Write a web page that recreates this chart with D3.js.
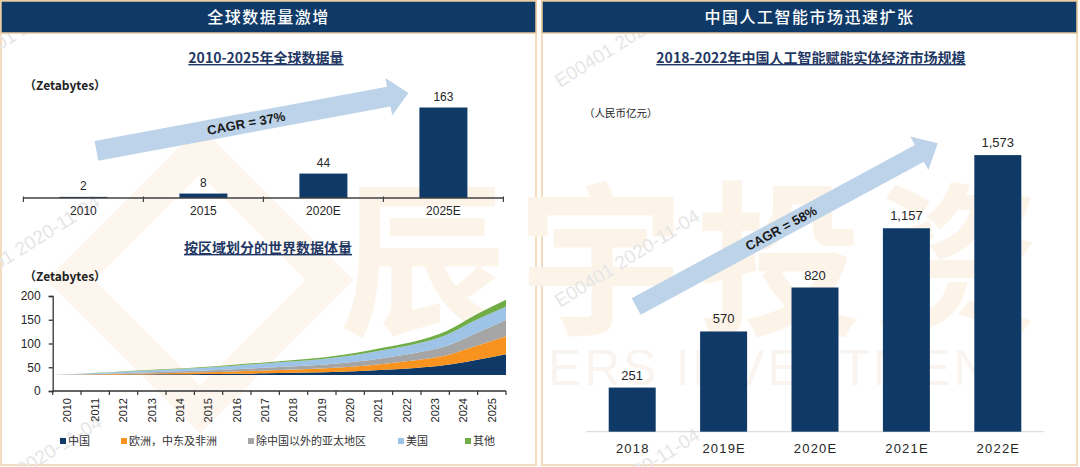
<!DOCTYPE html>
<html><head><meta charset="utf-8">
<script src="https://cdn.jsdelivr.net/npm/d3@7"></script>
<style>
body{margin:0;background:#fff;}
svg{display:block;}
</style></head>
<body><svg id="c" width="1080" height="467"></svg>
<script>
// ---------------- DATA ----------------
const topCategories = ["2010", "2015", "2020E", "2025E"];
const topValues = [2, 8, 44, 163];
const topCagr = "CAGR = 37%";

const stackYears = [2010,2011,2012,2013,2014,2015,2016,2017,2018,2019,2020,2021,2022,2023,2024,2025];
const stackNames = ["中国", "欧洲，中东及非洲", "除中国以外的亚太地区", "美国", "其他"];
const chinaVals = [0, 0.4, 0.8, 1.2, 1.7, 2.2, 3.0, 3.8, 4.8, 6.0, 8.0, 11, 15, 21, 32, 44];
const emeaVals  = [0, 0.7, 1.4, 2.2, 2.9, 3.6, 4.6, 5.6, 6.8, 8.2, 10, 13, 16, 20, 29, 38];
const apjVals   = [0, 0.8, 1.4, 2.3, 3.0, 3.8, 4.9, 6.0, 7.0, 8.3, 10, 12.5, 15.5, 19.5, 27, 34];
const usVals    = [0, 1.2, 2.3, 3.5, 4.6, 5.8, 7.3, 9.0, 10.3, 12.0, 14.5, 17, 19, 23.5, 28, 28];
const otherVals = [0, 0.3, 0.6, 0.9, 1.2, 1.5, 1.9, 2.3, 2.7, 3.2, 4.0, 5.0, 6.0, 8.0, 11, 14.5];
const stackBaseline = 33.5;
const stackYTicks = [0, 50, 100, 150, 200];

const aiCategories = ["2018", "2019E", "2020E", "2021E", "2022E"];
const aiValues = [251, 570, 820, 1157, 1573];
const aiCagr = "CAGR = 58%";

// ---------------- STYLE ----------------
const NAVY = "#0f3a68";
const ARROW = "#b9d1e8";
const stackColors = ["#0f3a68", "#f7931e", "#a5a5a5", "#9dc3e6", "#70ad47"];
const CJK = "'Noto Sans CJK SC', 'Noto Sans', sans-serif";
const LAT = "'Liberation Sans', Arial, sans-serif";

const svg = d3.select("#c");
svg.append("rect").attr("width", 1080).attr("height", 467).attr("fill", "#fffdfa");

// panels
const panels = [{x: 1, w: 535}, {x: 542, w: 535}];
panels.forEach(p => {
  svg.append("rect").attr("x", p.x).attr("y", 1).attr("width", p.w).attr("height", 464)
    .attr("fill", "#fff").attr("stroke", "#f3dcbf").attr("stroke-width", 2);
});

// ---------------- WATERMARKS ----------------
const wm = svg.append("g");
wm.append("polygon")
  .attr("points", "200,150 330,280 200,410 70,280")
  .attr("fill", "none").attr("stroke", "#fdf6ee").attr("stroke-width", 34);
wm.append("text").attr("x", 340).attr("y", 322)
  .attr("font-family", CJK).attr("font-weight", 700).attr("font-size", 166)
  .attr("letter-spacing", 12).attr("fill", "#fdf4e9").text("辰宇投资");
wm.append("text").attr("x", 548).attr("y", 385).attr("textLength", 475)
  .attr("font-family", LAT).attr("font-size", 50).attr("fill", "#f9f4ef").text("ERS INVESTMENT");
const diagPos = [[-38, 74], [-40, 294], [-38, 514], [560, 88], [560, 308], [560, 527]];
diagPos.forEach(([x, y]) => {
  wm.append("text").attr("transform", `translate(${x},${y}) rotate(-32)`)
    .attr("font-family", LAT).attr("font-size", 19).attr("fill", "#e6e6e6")
    .text("E00401 2020-11-04");
});

// headers
const headers = [{x: 1, w: 535, t: "全球数据量激增"}, {x: 542, w: 535, t: "中国人工智能市场迅速扩张"}];
headers.forEach(h => {
  svg.append("rect").attr("x", h.x).attr("y", 1).attr("width", h.w).attr("height", 32)
    .attr("fill", NAVY).attr("stroke", "#e9c99f").attr("stroke-width", 1.5);
  svg.append("text").attr("x", h.x + h.w / 2).attr("y", 17).attr("dy", "0.36em")
    .attr("text-anchor", "middle").attr("fill", "#fff").attr("font-family", CJK)
    .attr("font-weight", 500).attr("font-size", 16).attr("letter-spacing", 1.5).text(h.t);
});

function subtitle(x, y, t) {
  svg.append("text").attr("x", x).attr("y", y).attr("text-anchor", "middle")
    .attr("font-family", CJK).attr("font-weight", 700).attr("font-size", 14)
    .attr("fill", "#1f3864").style("text-decoration", "underline").text(t);
}
function unitLabel(x, y, t, size, bold) {
  svg.append("text").attr("x", x).attr("y", y).attr("font-family", CJK)
    .attr("font-weight", bold ? 700 : 400).attr("font-size", size).attr("fill", "#222").text(t);
}
function drawArrow(g, x1, y1, x2, y2, sw, hw, hl, label) {
  const L = Math.hypot(x2 - x1, y2 - y1), a = Math.atan2(y2 - y1, x2 - x1) * 180 / Math.PI;
  const pts = [[0, -sw / 2], [L - hl, -sw / 2], [L - hl, -hw / 2], [L, 0], [L - hl, hw / 2], [L - hl, sw / 2], [0, sw / 2]];
  const gg = g.append("g").attr("transform", `translate(${x1},${y1}) rotate(${a})`);
  gg.append("polygon").attr("points", pts.map(p => p.join(",")).join(" ")).attr("fill", ARROW).attr("opacity", 0.95);
  gg.append("text").attr("x", L * 0.48).attr("y", 0).attr("dy", "0.36em").attr("text-anchor", "middle")
    .attr("font-family", LAT).attr("font-weight", 700).attr("font-size", 13).attr("fill", "#1a1a1a").text(label);
}

// ---------------- LEFT TOP: bar chart ----------------
subtitle(266, 63, "2010-2025年全球数据量");
unitLabel(24, 90, "（Zetabytes）", 12, true);

const gTop = svg.append("g");
const xTop = d3.scaleBand().domain(topCategories).range([23.4, 503.4]).paddingInner(0.6).paddingOuter(0.3);
const yTop = d3.scaleLinear().domain([0, d3.max(topValues)]).range([198, 107.5]);
const xTopStep = d3.scaleBand().domain(topCategories).range([23.4, 503.4]);

drawArrow(gTop, xTop("2010") + xTop.bandwidth() / 2 + 13, yTop(85),
  xTop("2025E") + xTop.bandwidth() / 2 - 35, yTop(189), 20, 38, 20, topCagr);

gTop.selectAll("rect.bar").data(topValues).join("rect").attr("class", "bar")
  .attr("x", (d, i) => xTop(topCategories[i])).attr("width", xTop.bandwidth())
  .attr("y", d => yTop(d)).attr("height", d => yTop(0) - yTop(d)).attr("fill", NAVY);
gTop.selectAll("text.val").data(topValues).join("text").attr("class", "val")
  .attr("x", (d, i) => xTop(topCategories[i]) + xTop.bandwidth() / 2).attr("y", d => yTop(d) - 7)
  .attr("text-anchor", "middle").attr("font-family", LAT).attr("font-size", 12).attr("fill", "#262626").text(d => d);
gTop.append("line").attr("x1", 23.4).attr("x2", 503.4).attr("y1", yTop(0)).attr("y2", yTop(0))
  .attr("stroke", "#404040").attr("stroke-width", 1.3);
const topTickX = topCategories.map(c => xTopStep(c)).concat([503.4]);
gTop.selectAll("line.tk").data(topTickX).join("line").attr("class", "tk")
  .attr("x1", d => d).attr("x2", d => d).attr("y1", yTop(0) - 1.5).attr("y2", yTop(0) + 4)
  .attr("stroke", "#404040").attr("stroke-width", 1.2);
gTop.selectAll("text.cat").data(topCategories).join("text").attr("class", "cat")
  .attr("x", d => xTopStep(d) + xTopStep.bandwidth() / 2).attr("y", yTop(0) + 17)
  .attr("text-anchor", "middle").attr("font-family", LAT).attr("font-size", 12).attr("fill", "#262626").text(d => d);

// ---------------- LEFT BOTTOM: stacked area ----------------
subtitle(268, 253, "按区域划分的世界数据体量");
unitLabel(24, 281, "（Zetabytes）", 12, true);

const gSt = svg.append("g");
const sxBand = d3.scaleBand().domain(stackYears).range([52.7, 506]);
const sx = d3.scalePoint().domain(stackYears).range([52.7, 506]);
const sy = d3.scaleLinear().domain([0, 200]).range([391, 296]);
const stackRows = stackYears.map((yr, i) => ({
  year: yr, s0: chinaVals[i], s1: emeaVals[i], s2: apjVals[i], s3: usVals[i], s4: otherVals[i]
}));
const keys = ["s0", "s1", "s2", "s3", "s4"];
const stacked = d3.stack().keys(keys)(stackRows);
const area = d3.area().curve(d3.curveMonotoneX)
  .x(d => sx(d.data.year))
  .y0(d => sy(d[0] + stackBaseline))
  .y1(d => sy(d[1] + stackBaseline));
gSt.selectAll("path.layer").data(stacked).join("path").attr("class", "layer")
  .attr("d", area).attr("fill", (d, i) => stackColors[i]);

const yAx = gSt.append("g").attr("transform", "translate(52.7,0)")
  .call(d3.axisLeft(sy).tickValues(stackYTicks).tickSize(4).tickPadding(8));
yAx.selectAll("path,line").attr("stroke", "#333").attr("stroke-width", 1.3);
yAx.selectAll("text").attr("font-family", LAT).attr("font-size", 12).attr("fill", "#262626");

gSt.append("line").attr("x1", 52.7).attr("x2", 506).attr("y1", sy(0)).attr("y2", sy(0))
  .attr("stroke", "#333").attr("stroke-width", 1.3);
const stTickX = stackYears.map(y => sxBand(y)).concat([506]);
gSt.selectAll("line.tk").data(stTickX).join("line").attr("class", "tk")
  .attr("x1", d => d).attr("x2", d => d).attr("y1", sy(0)).attr("y2", sy(0) + 4)
  .attr("stroke", "#333").attr("stroke-width", 1.2);
gSt.selectAll("text.yr").data(stackYears).join("text").attr("class", "yr")
  .attr("transform", d => `translate(${sxBand(d) + sxBand.bandwidth() / 2},${sy(0) + 7}) rotate(-90)`)
  .attr("text-anchor", "end").attr("dy", "0.36em")
  .attr("font-family", LAT).attr("font-size", 11).attr("fill", "#262626").text(d => d);

// legend
const legendX = [60, 121, 248, 398, 465];
const lg = svg.append("g");
stackNames.forEach((n, i) => {
  lg.append("rect").attr("x", legendX[i]).attr("y", 438).attr("width", 6).attr("height", 6).attr("fill", stackColors[i]);
  lg.append("text").attr("x", legendX[i] + 8).attr("y", 441).attr("dy", "0.36em")
    .attr("font-family", CJK).attr("font-size", 11).attr("fill", "#333").text(n);
});

// ---------------- RIGHT: AI market ----------------
subtitle(811, 63, "2018-2022年中国人工智能赋能实体经济市场规模");
unitLabel(584, 117, "（人民币亿元）", 10.5, false);

const gR = svg.append("g");
const xR = d3.scaleBand().domain(aiCategories).range([586.5, 1043.5]).paddingInner(0.486).paddingOuter(0.243);
const yR = d3.scaleLinear().domain([0, d3.max(aiValues)]).range([431.7, 155.1]);
gR.append("line").attr("x1", 586.5).attr("x2", 1043.5).attr("y1", yR(0)).attr("y2", yR(0))
  .attr("stroke", "#d6d6d6").attr("stroke-width", 1);
drawArrow(gR, xR("2018") + xR.bandwidth() / 2 + 4, yR(712),
  xR("2022E") + xR.bandwidth() / 2 - 60, yR(1640), 19, 38, 21, aiCagr);
gR.selectAll("rect.bar").data(aiValues).join("rect").attr("class", "bar")
  .attr("x", (d, i) => xR(aiCategories[i])).attr("width", xR.bandwidth())
  .attr("y", d => yR(d)).attr("height", d => yR(0) - yR(d)).attr("fill", NAVY);
gR.selectAll("text.val").data(aiValues).join("text").attr("class", "val")
  .attr("x", (d, i) => xR(aiCategories[i]) + xR.bandwidth() / 2).attr("y", d => yR(d) - 8)
  .attr("text-anchor", "middle").attr("font-family", LAT).attr("font-size", 13).attr("fill", "#262626")
  .text(d => d3.format(",")(d));
gR.selectAll("text.cat").data(aiCategories).join("text").attr("class", "cat")
  .attr("x", (d, i) => xR(d) + xR.bandwidth() / 2 + 0.6).attr("y", yR(0) + 21)
  .attr("text-anchor", "middle").attr("font-family", LAT).attr("font-size", 13)
  .attr("letter-spacing", 1.2).attr("fill", "#262626").text(d => d);
</script>
</body></html>
